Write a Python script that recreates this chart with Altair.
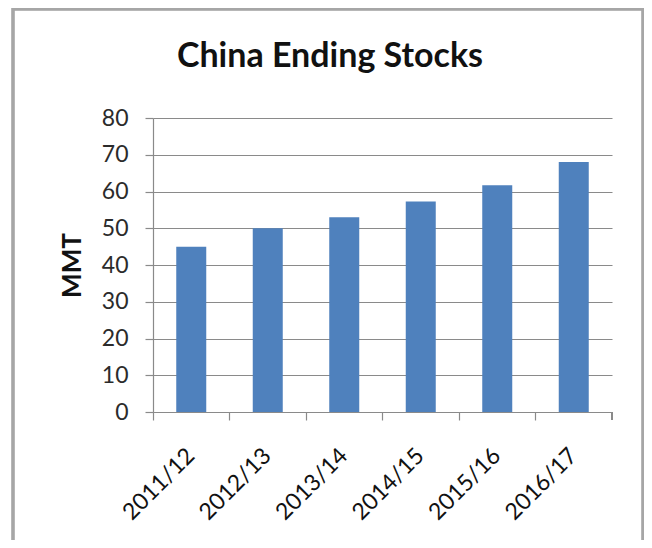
import altair as alt
import pandas as pd

years = ["2011/12", "2012/13", "2013/14", "2014/15", "2015/16", "2016/17"]
stocks = [45, 50, 53, 57.3, 61.7, 68]
title_text = ["China Ending Stocks"]

df = pd.DataFrame({"year": years, "stocks": stocks})
tdf = pd.DataFrame({"t": title_text})

W, H = 459, 294
FONT = "Lato"
GRID = "#8a8a8a"

base = alt.Chart(df)

bars = base.mark_bar(color="#4f81bd", size=30).encode(
    x=alt.X("year:N", sort=years,
            scale=alt.Scale(paddingInner=0, paddingOuter=0),
            axis=alt.Axis(title=None, labelAngle=-45, labelFont=FONT, labelFontSize=23,
                          labelColor="#111111", bandPosition=0, labelOffset=-8,
                          labelPadding=24, tickSize=8, tickColor=GRID, domainColor=GRID,
                          labelAlign="right", labelBaseline="top")),
    y=alt.Y("stocks:Q", scale=alt.Scale(domain=[0, 80]),
            axis=alt.Axis(title="MMT", values=list(range(0, 81, 10)), grid=True,
                          gridColor=GRID, gridWidth=1.2, gridOpacity=1,
                          tickSize=8, tickColor=GRID, domainColor=GRID,
                          labelFont=FONT, labelFontSize=23, labelColor="#2b2b2b",
                          labelPadding=17,
                          titleFont=FONT, titleFontSize=26, titleFontWeight="bold",
                          titleColor="#111111", titleX=-81, titleY=H / 2,
                          titleAlign="center", titleBaseline="middle", titleAngle=-90)),
)

end_tick = base.mark_rule(color=GRID, strokeWidth=1.2).encode(
    x=alt.value(W), y=alt.value(H), y2=alt.value(H + 8)
)

frame = base.mark_rect(fill="transparent", stroke="#a6a6a6", strokeWidth=2.5).encode(
    x=alt.value(-140), x2=alt.value(490), y=alt.value(-109), y2=alt.value(H + 150)
)

title = alt.Chart(tdf).mark_text(font=FONT, fontSize=34, fontWeight="bold", color="#111111",
                                 align="center", baseline="alphabetic").encode(
    text="t:N", x=alt.value(177), y=alt.value(-51)
)

chart = alt.layer(frame, bars, end_tick, title).properties(
    width=W, height=H,
    autosize=alt.AutoSizeParams(type="none"),
    padding={"left": 145, "top": 110, "right": 32, "bottom": 128},
).configure_view(stroke=None).configure_axis(domainWidth=1.2, tickWidth=1.2)

chart.save("out.html", embed_options={"renderer": "svg", "actions": False})
